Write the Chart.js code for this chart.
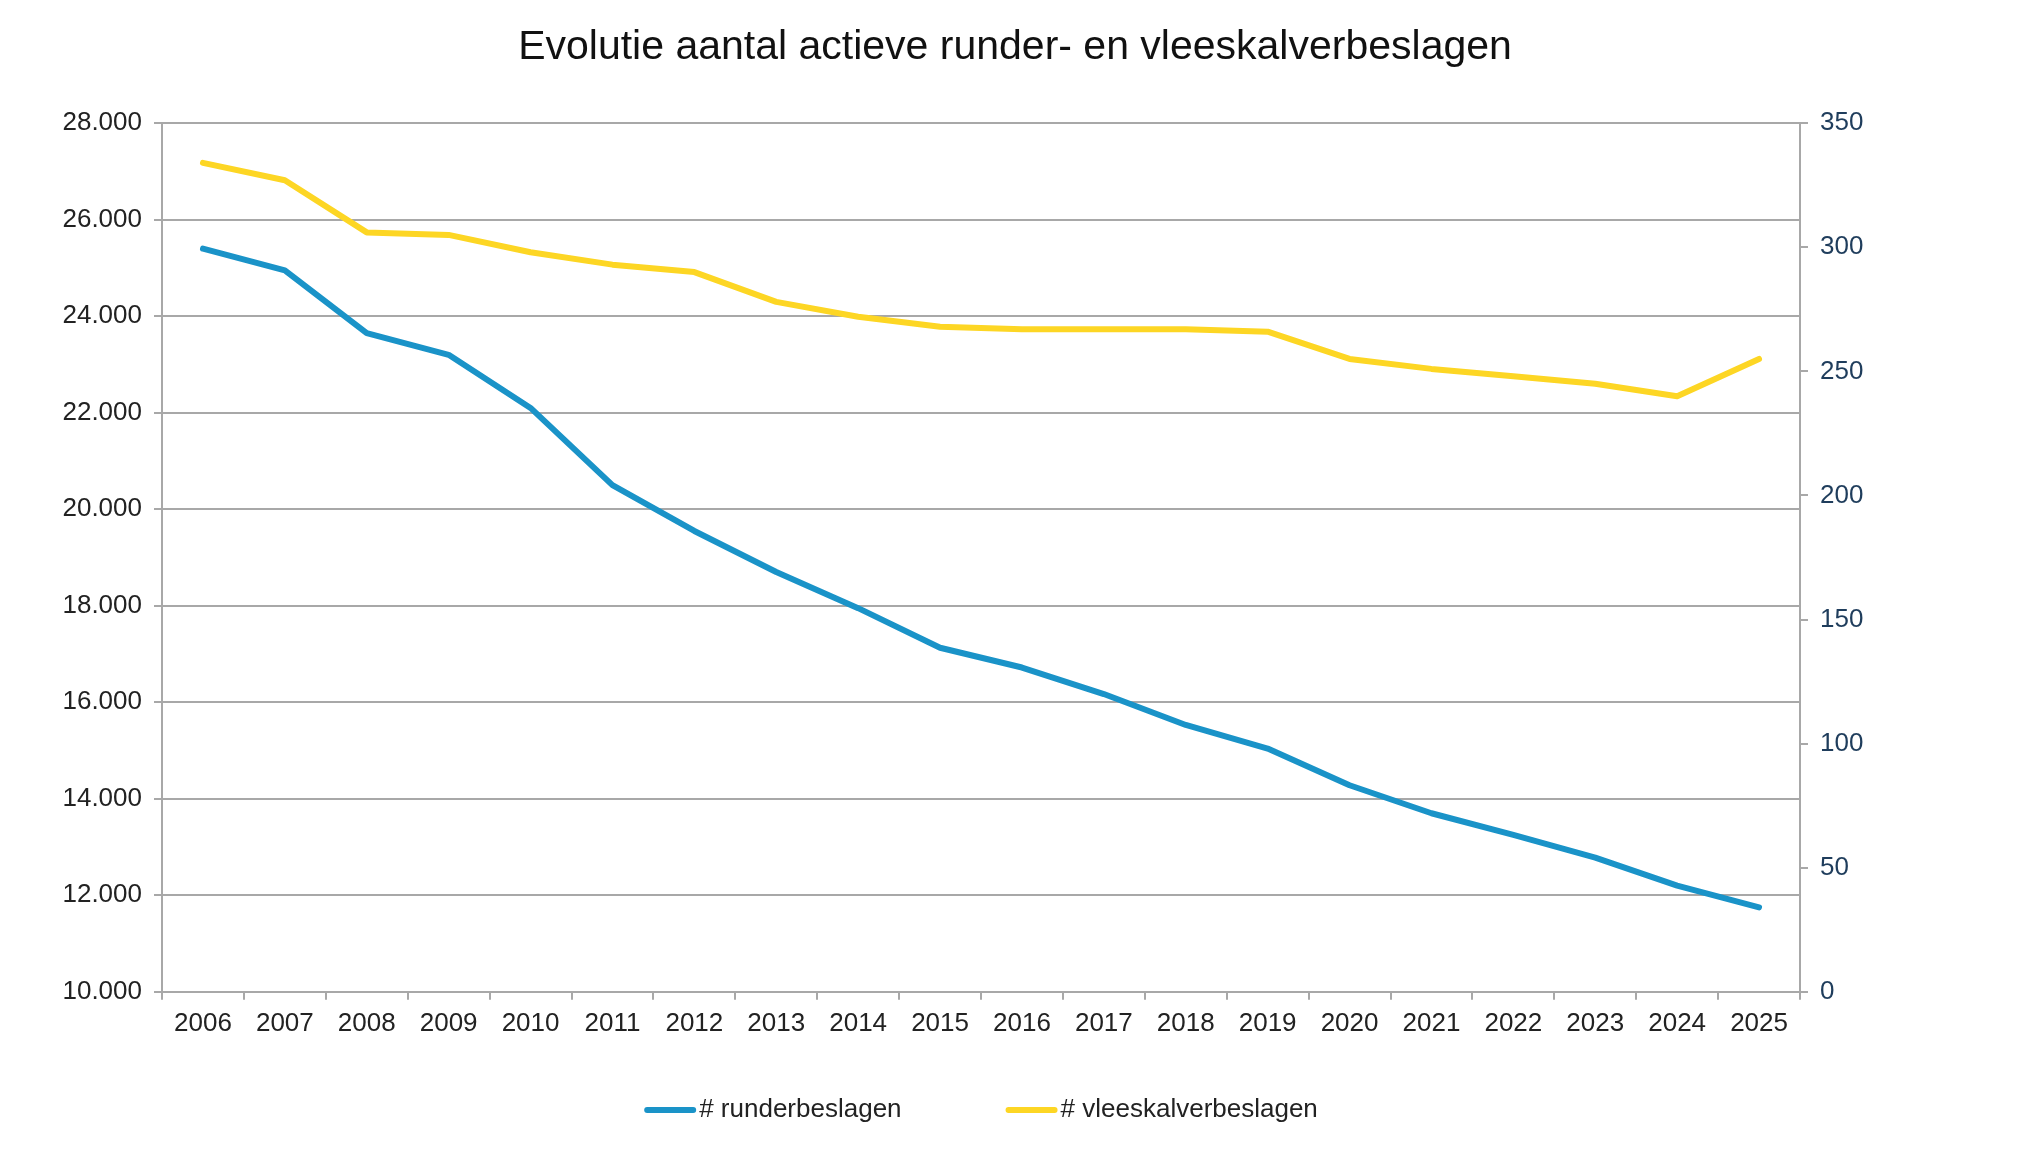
<!DOCTYPE html>
<html>
<head>
<meta charset="utf-8">
<script src="https://cdn.jsdelivr.net/npm/chart.js@4.4.1/dist/chart.umd.min.js"></script>
<style>
html,body{margin:0;padding:0;background:#fff;}
#wrap{width:2030px;height:1160px;position:relative;}
</style>
</head>
<body>
<div id="wrap"><canvas id="c" width="2030" height="1160"></canvas></div>
<script>
const years = ['2006','2007','2008','2009','2010','2011','2012','2013','2014','2015','2016','2017','2018','2019','2020','2021','2022','2023','2024','2025'];
const runderbeslagen = [25400,24950,23650,23200,22100,20500,19550,18700,17950,17130,16720,16170,15530,15040,14280,13700,13250,12780,12200,11750];
const vleeskalverbeslagen = [334,327,306,305,298,293,290,278,272,268,267,267,267,266,255,251,248,245,240,255];
const seriesNames = ['# runderbeslagen','# vleeskalverbeslagen'];
const titleText = 'Evolutie aantal actieve runder- en vleeskalverbeslagen';

const FONT = "'Liberation Sans', Arial, sans-serif";
const GRID = '#A8A8A8';
const BLUE = '#1A93C8';
const YELLOW = '#FDD624';

const legendPlugin = {
  id: 'lineLegend',
  afterDraw(chart) {
    const ctx = chart.ctx;
    const area = chart.chartArea;
    const lineLen = 52, gap = 3, spacing = 104, y = 1110;
    ctx.save();
    ctx.font = '26px ' + FONT;
    const items = chart.data.datasets.map(ds => ({label: ds.label, color: ds.borderColor, w: ctx.measureText(ds.label).width}));
    let total = 0;
    items.forEach((it, i) => { total += lineLen + gap + it.w + (i ? spacing : 0); });
    let x = (area.left + area.right) / 2 - total / 2;
    items.forEach((it, i) => {
      if (i) x += spacing;
      ctx.strokeStyle = it.color;
      ctx.lineWidth = 6;
      ctx.lineCap = 'round';
      ctx.beginPath();
      ctx.moveTo(x + 3, y);
      ctx.lineTo(x + lineLen - 3, y);
      ctx.stroke();
      x += lineLen + gap;
      ctx.fillStyle = '#222';
      ctx.textBaseline = 'middle';
      ctx.textAlign = 'left';
      ctx.fillText(it.label, x, y);
      x += it.w;
    });
    ctx.restore();
  }
};

new Chart(document.getElementById('c'), {
  type: 'line',
  data: {
    labels: years,
    datasets: [
      {label: seriesNames[0], data: runderbeslagen, yAxisID: 'y', borderColor: BLUE, backgroundColor: BLUE, borderWidth: 6, pointRadius: 0, tension: 0, borderJoinStyle: 'round', borderCapStyle: 'round'},
      {label: seriesNames[1], data: vleeskalverbeslagen, yAxisID: 'y1', borderColor: YELLOW, backgroundColor: YELLOW, borderWidth: 6, pointRadius: 0, tension: 0, borderJoinStyle: 'round', borderCapStyle: 'round'}
    ]
  },
  options: {
    responsive: false,
    animation: false,
    devicePixelRatio: 1,
    layout: {padding: {left: 0, right: 0, top: 0, bottom: 113}},
    plugins: {
      legend: {display: false},
      tooltip: {enabled: false},
      title: {display: true, text: titleText, color: '#111', font: {family: FONT, size: 41, weight: 'normal'}, padding: {top: 23, bottom: 51}}
    },
    scales: {
      x: {
        offset: true,
        grid: {offset: true, drawOnChartArea: false, drawTicks: true, tickLength: 8, color: GRID, lineWidth: 2},
        border: {color: GRID, width: 2},
        ticks: {font: {family: FONT, size: 26}, color: '#222', padding: 8, maxRotation: 0, autoSkip: false}
      },
      y: {
        position: 'left',
        min: 10000, max: 28000,
        afterFit(s) { s.width = 162; },
        grid: {color: GRID, lineWidth: 2, tickLength: 8},
        border: {color: GRID, width: 2},
        ticks: {stepSize: 2000, font: {family: FONT, size: 26}, color: '#222', padding: 12,
          callback: v => v.toLocaleString('de-DE', {minimumFractionDigits: 0}).replace(/,/g, '.')}
      },
      y1: {
        position: 'right',
        min: 0, max: 350,
        afterFit(s) { s.width = 230; },
        grid: {drawOnChartArea: false, color: GRID, lineWidth: 2, tickLength: 8},
        border: {color: GRID, width: 2},
        ticks: {stepSize: 50, font: {family: FONT, size: 26}, color: '#1F3D5C', padding: 12}
      }
    }
  },
  plugins: [legendPlugin]
});
</script>
</body>
</html>
